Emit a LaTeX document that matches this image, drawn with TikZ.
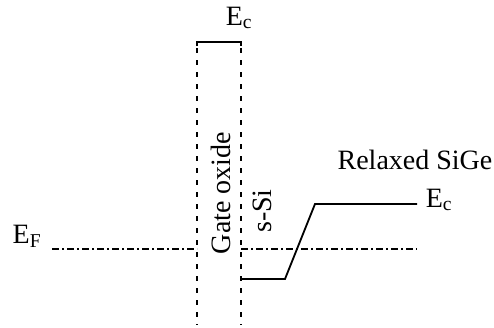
\documentclass[tikz,border=0pt]{standalone}
\usepackage{fontspec}
\setmainfont{Liberation Serif}
\begin{document}
\begin{tikzpicture}[x=1pt,y=-1pt,
  lbl/.style={inner sep=0pt,font=\fontsize{28}{31}\selectfont},
  band/.style={line width=1.8pt},
  wall/.style={line width=1.8pt,dash pattern=on 5pt off 7pt},
  fermi/.style={line width=1.6pt,dash pattern=on 7pt off 3pt on 2pt off 3pt}]
\useasboundingbox (0,0) rectangle (494,327);
% gate oxide walls
\coordinate (tl) at (197,42);
\coordinate (tr) at (241,42);
\coordinate (bl) at (197,325);
\coordinate (br) at (241,325);
\draw[band] ([yshift=-4pt]tl) -- (tl) -- (tr) -- ([yshift=-4pt]tr);
\draw[wall] ([yshift=-6pt]tl) -- (bl);
\draw[wall] ([yshift=-6pt]tr) -- (br);
% Fermi level
\coordinate (f1) at (52,249);
\coordinate (f2) at (197,249);
\coordinate (f3) at (241,249);
\coordinate (f4) at (417,249);
\draw[fermi] (f1) -- (f2);
\draw[fermi] (f3) -- (f4);
% conduction band
\coordinate (c1) at (241,279);
\coordinate (c2) at (285,279);
\coordinate (c3) at (315,204);
\coordinate (c4) at (417,204);
\draw[band] (c1) -- (c2) -- (c3) -- (c4);
% labels
\node[lbl] (ectop) at (239,18) {E\textsubscript{c}};
\node[lbl] (ef) at (27,236) {E\textsubscript{F}};
\node[lbl] (ecr) at (439,200) {E\textsubscript{c}};
\node[lbl] (sige) at (415,160) {Relaxed SiGe};
\node[lbl,rotate=90] (gox) at (221,193) {Gate oxide};
\node[lbl,rotate=90] (ssi) at (262,211) {s-Si};
\end{tikzpicture}
\end{document}
